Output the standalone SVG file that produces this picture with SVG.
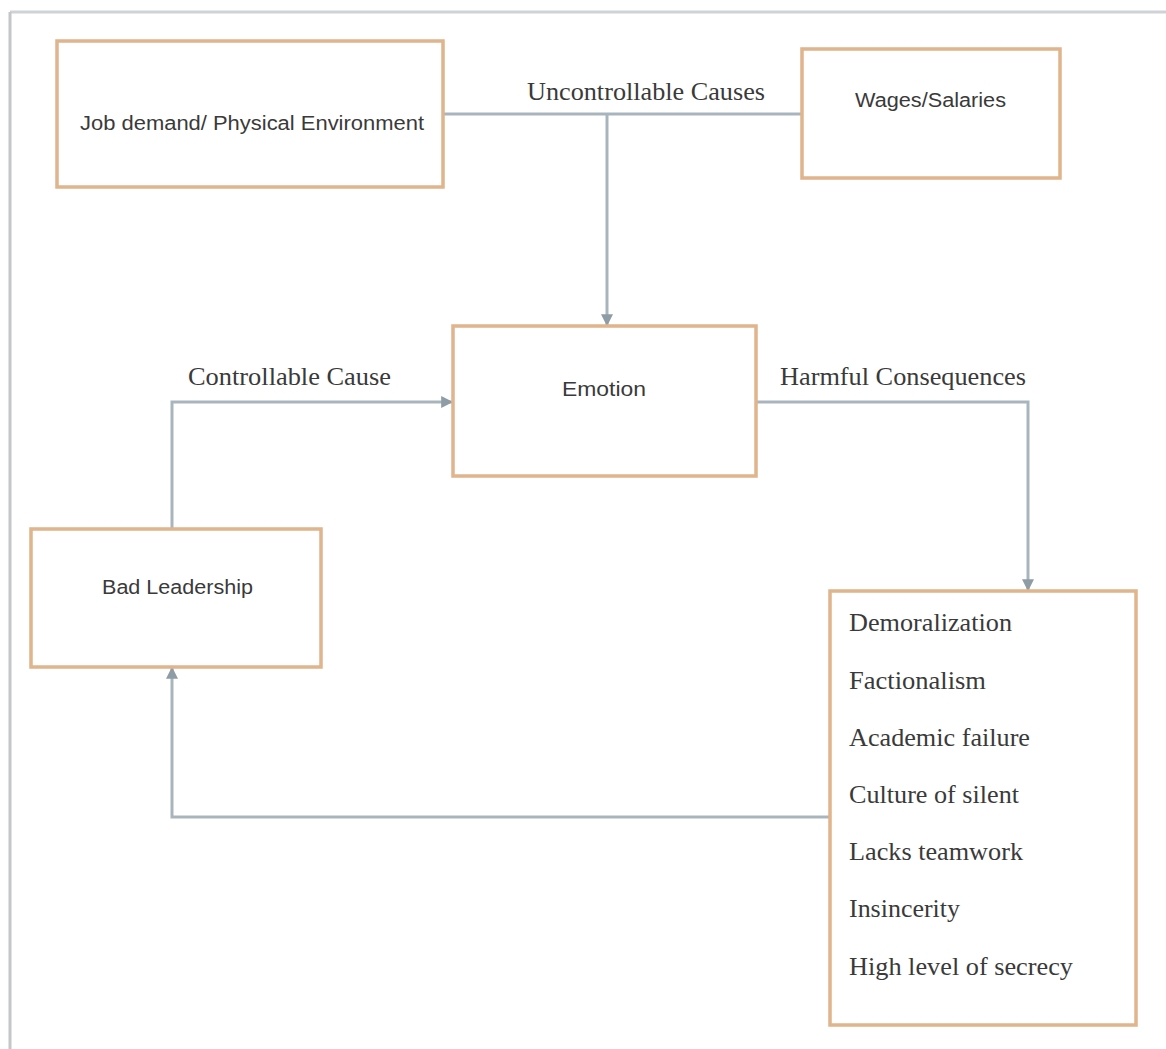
<svg xmlns="http://www.w3.org/2000/svg" width="1166" height="1049" viewBox="0 0 1166 1049">
<defs>
<marker id="arr" viewBox="0 0 10 10" refX="9" refY="5" markerWidth="12" markerHeight="12" orient="auto" markerUnits="userSpaceOnUse">
<path d="M0,0 L10,5 L0,10 z" fill="#8e9ca6"/>
</marker>
<style>
.box{fill:#ffffff;stroke:#e0b48c;stroke-width:3.5}
.con{fill:none;stroke:#a9b5bd;stroke-width:3}
.sans{font-family:"Liberation Sans",Arial,sans-serif;font-size:20px;fill:#3a3a3a}
.serif{font-family:"Liberation Serif","Times New Roman",serif;font-size:25px;fill:#3a3a3a}
</style>
</defs>
<rect width="1166" height="1049" fill="#ffffff"/>
<g id="frame">
<line x1="10" y1="12" x2="1166" y2="12" stroke="#cfd2d6" stroke-width="3"/>
<line x1="10" y1="12" x2="10" y2="1049" stroke="#c4c6c8" stroke-width="3"/>
</g>
<g id="connectors">
<line class="con" x1="443" y1="114" x2="802" y2="114"/>
<line class="con" x1="607" y1="114" x2="607" y2="325" marker-end="url(#arr)"/>
<polyline class="con" points="172,529 172,402 452,402" marker-end="url(#arr)"/>
<polyline class="con" points="756,402 1028,402 1028,590" marker-end="url(#arr)"/>
<polyline class="con" points="830,817 172,817 172,668" marker-end="url(#arr)"/>
<text class="serif" x="527" y="100" textLength="238" lengthAdjust="spacingAndGlyphs">Uncontrollable Causes</text>
<text class="serif" x="188" y="385" textLength="203" lengthAdjust="spacingAndGlyphs">Controllable Cause</text>
<text class="serif" x="780" y="385" textLength="246" lengthAdjust="spacingAndGlyphs">Harmful Consequences</text>
</g>
<g id="job-demand">
<rect class="box" x="57" y="41" width="386" height="146"/>
<text class="sans" x="80" y="130" textLength="344" lengthAdjust="spacingAndGlyphs">Job demand/ Physical Environment</text>
</g>
<g id="wages">
<rect class="box" x="802" y="49" width="258" height="129"/>
<text class="sans" x="855" y="107" textLength="151" lengthAdjust="spacingAndGlyphs">Wages/Salaries</text>
</g>
<g id="emotion">
<rect class="box" x="453" y="326" width="303" height="150"/>
<text class="sans" x="562" y="396" textLength="84" lengthAdjust="spacingAndGlyphs">Emotion</text>
</g>
<g id="bad-leadership">
<rect class="box" x="31" y="529" width="290" height="138"/>
<text class="sans" x="102" y="594" textLength="151" lengthAdjust="spacingAndGlyphs">Bad Leadership</text>
</g>
<g id="consequences">
<rect class="box" x="830" y="591" width="306" height="434"/>
<text class="serif" x="849" y="631" textLength="163" lengthAdjust="spacingAndGlyphs">Demoralization</text>
<text class="serif" x="849" y="689" textLength="137" lengthAdjust="spacingAndGlyphs">Factionalism</text>
<text class="serif" x="849" y="746" textLength="181" lengthAdjust="spacingAndGlyphs">Academic failure</text>
<text class="serif" x="849" y="803" textLength="170" lengthAdjust="spacingAndGlyphs">Culture of silent</text>
<text class="serif" x="849" y="860" textLength="174" lengthAdjust="spacingAndGlyphs">Lacks teamwork</text>
<text class="serif" x="849" y="917" textLength="111" lengthAdjust="spacingAndGlyphs">Insincerity</text>
<text class="serif" x="849" y="975" textLength="224" lengthAdjust="spacingAndGlyphs">High level of secrecy</text>
</g>
</svg>
